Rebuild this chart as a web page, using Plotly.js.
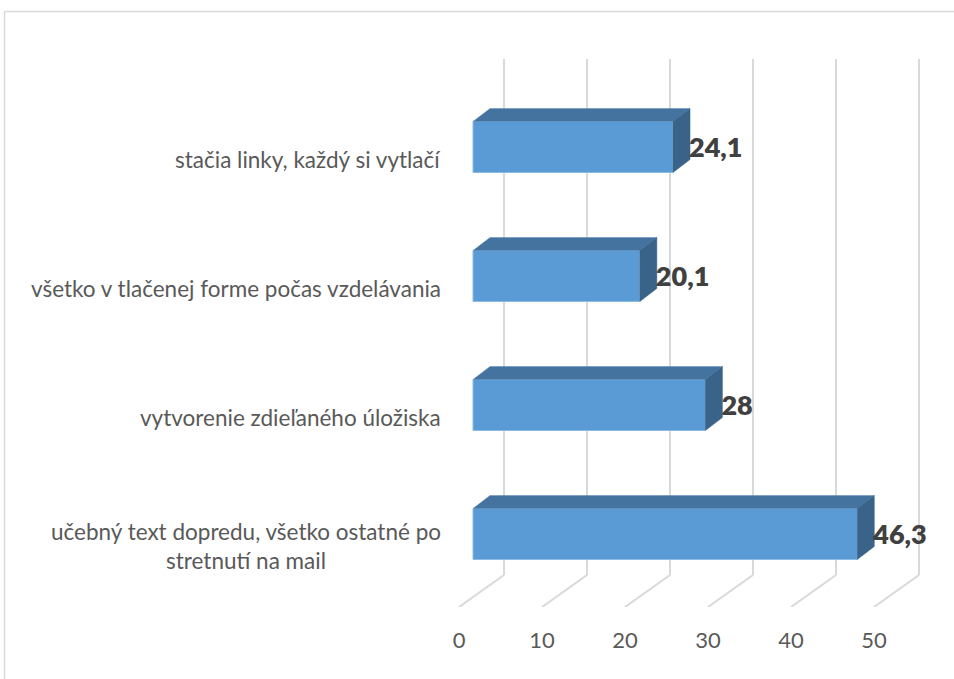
<!DOCTYPE html>
<html><head><meta charset="utf-8">
<script src="https://cdn.plot.ly/plotly-3.0.1.min.js"></script>
<style>html,body{margin:0;padding:0;background:#fff}</style>
</head><body><div id="chart" style="width:954px;height:679px"></div>
<script>
// data (bottom to top, as on the value axis)
const categories = [
  "učebný text dopredu, všetko ostatné po<br>stretnutí na mail",
  "vytvorenie zdieľaného úložiska",
  "všetko v tlačenej forme počas vzdelávania",
  "stačia linky, každý si vytlačí"
];
const values = [46.3, 28, 20.1, 24.1];
const valueLabels = ["46,3", "28", "20,1", "24,1"];
const xTicks = [0, 10, 20, 30, 40, 50];

// pixel geometry of the pseudo-3D box
const W = 954, H = 679;
const plot = {l: 449, r: 930, t: 59, b: 607};
const pxX = 8.3, pxY = 129;           // px per x unit, px per category
const y0px = 546;                     // pixel row of category 0's label
const xMin = -(459 - plot.l) / pxX, xMax = (plot.r - 459) / pxX;
const yMin = (y0px - plot.b) / pxY, yMax = (y0px - plot.t) / pxY;
const barBase = 14 / pxX;             // bars stand 14px in from the floor front
const faceDx = 17 / pxX, faceDy = 13 / pxY;
const wallDx = 45 / pxX, wallDy = 32 / pxY;
const barH = 51 / pxY, barShift = 12 / pxY;
const labelDrop = 3 / pxY, labelBack = 1 / pxX;
const ys = categories.map((_, i) => i);
const barLo = i => i + barShift - barH / 2, barHi = i => i + barShift + barH / 2;

function poly(fn) {
  const xs = [], yy = [];
  values.forEach((v, i) => { fn(v, i).forEach(p => { xs.push(p[0]); yy.push(p[1]); }); xs.push(null); yy.push(null); });
  return {x: xs, y: yy};
}
const topF = poly((v, i) => { const e = barBase + v, t = barHi(i);
  return [[barBase, t], [e, t], [e + faceDx, t + faceDy], [barBase + faceDx, t + faceDy], [barBase, t]]; });
const sideF = poly((v, i) => { const e = barBase + v, t = barHi(i), b = barLo(i);
  return [[e, t], [e + faceDx, t + faceDy], [e + faceDx, b + faceDy], [e, b], [e, t]]; });

const traces = [
  {type: "bar", orientation: "h", x: values, y: ys, base: barBase, width: barH,
   offset: barShift - barH / 2, hoverinfo: "skip",
   marker: {color: "#5B9BD5", line: {color: "#8DBAE3", width: 1}}},
  {type: "scatter", mode: "lines", x: topF.x, y: topF.y, fill: "toself", fillcolor: "#44739F",
   line: {color: "#5F8DB8", width: 0.5}, hoverinfo: "skip"},
  {type: "scatter", mode: "lines", x: sideF.x, y: sideF.y, fill: "toself", fillcolor: "#396388",
   line: {color: "#396388", width: 0.5}, hoverinfo: "skip"},
  {type: "scatter", mode: "text", x: values.map(v => barBase + v + faceDx - labelBack), y: ys.map(i => i + barShift - labelDrop),
   text: valueLabels, textposition: "middle right", cliponaxis: false, hoverinfo: "skip",
   textfont: {family: "Lato, Carlito, sans-serif", size: 27, color: "#404040", weight: 800}}
];

const grid = {color: "#D9D9D9", width: 2};
const shapes = [];
xTicks.forEach(t => {
  shapes.push({type: "line", layer: "below", xref: "x", yref: "y", x0: t, y0: yMin, x1: t + wallDx, y1: yMin + wallDy, line: grid});
  shapes.push({type: "line", layer: "below", xref: "x", yref: "y", x0: t + wallDx, y0: yMin + wallDy, x1: t + wallDx, y1: yMax, line: grid});
});
const pw = plot.r - plot.l, ph = plot.b - plot.t;
const fx = px => (px - plot.l) / pw, fy = px => (plot.b - px) / ph;
[[4.5, 11.5, 4.5, H], [4.5, 11.5, W, 11.5]].forEach(s => shapes.push({type: "line", layer: "below", xref: "paper", yref: "paper",
  x0: fx(s[0]), y0: fy(s[1]), x1: fx(s[2]), y1: fy(s[3]), line: {color: "#D9D9D9", width: 1.5}}));

const annotations = categories.map((c, i) => ({
  text: c, xref: "x", yref: "y", x: 0, y: i, xanchor: "right", yanchor: "middle", xshift: -16,
  showarrow: false, align: "center",
  font: {family: "Lato, Carlito, sans-serif", size: 22.5, color: "#595959"}
}));

Plotly.newPlot("chart", traces, {
  width: W, height: H, showlegend: false, paper_bgcolor: "#fff", plot_bgcolor: "rgba(0,0,0,0)",
  margin: {l: plot.l, r: W - plot.r, t: plot.t, b: H - plot.b},
  barmode: "overlay",
  xaxis: {range: [xMin, xMax], tickvals: xTicks, ticktext: xTicks.map(String), showgrid: false, zeroline: false, showline: false,
    ticks: "outside", ticklen: 14, tickcolor: "rgba(0,0,0,0)", tickfont: {family: "Lato, Carlito, sans-serif", size: 22, color: "#595959"}},
  yaxis: {range: [yMin, yMax], showgrid: false, zeroline: false, showline: false, showticklabels: false, ticks: ""},
  shapes, annotations
}, {displayModeBar: false, staticPlot: true});
</script></body></html>
